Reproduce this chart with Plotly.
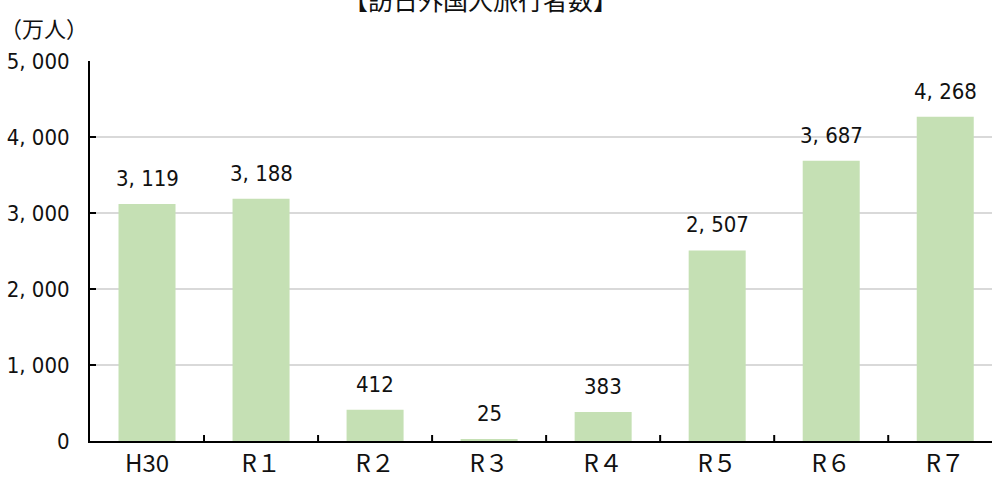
import plotly.graph_objects as go

categories = ["H30", "R１", "R２", "R３", "R４", "R５", "R６", "R７"]
visitors = [3119, 3188, 412, 25, 383, 2507, 3687, 4268]
y_tickvals = [0, 1000, 2000, 3000, 4000, 5000]
y_ticktext = ["0", "1, 000", "2, 000", "3, 000", "4, 000", "5, 000"]

NUMFONT = "DejaVu Sans Condensed, Noto Sans CJK JP, sans-serif"
CJK = "Noto Sans CJK JP, sans-serif"

W, H = 992, 481
L, T, B = 90, 61, 40
PW, PH = W - L, H - T - B


def fmt(v):
    return f"{v:,}".replace(",", ", ")


fig = go.Figure()
fig.add_trace(go.Bar(
    x=list(range(len(categories))),
    y=visitors,
    width=0.5,
    marker=dict(color="#C5E0B4", line=dict(width=0)),
    hoverinfo="skip",
))

ann = []
for i, v in enumerate(visitors):
    ann.append(dict(
        x=i, y=v, text=fmt(v), showarrow=False,
        xref="x", yref="y", yanchor="bottom", yshift=11,
        font=dict(family=NUMFONT, size=22, color="#111111"),
    ))
# title (partially clipped at top, as in the reference)
ann.append(dict(
    x=(480 - L) / PW, y=1 + (T + 1) / PH, xref="paper", yref="paper",
    text="【訪日外国人旅行者数】", showarrow=False, yanchor="middle",
    font=dict(family=CJK, size=25, color="#111111"),
))
# unit label
ann.append(dict(
    x=-(L + 2) / PW, y=1 + (T - 27) / PH, xref="paper", yref="paper",
    text="（万人）", showarrow=False, xanchor="left", yanchor="middle",
    font=dict(family=CJK, size=22, color="#111111"),
))

fig.update_layout(
    width=W, height=H,
    margin=dict(l=L, r=0, t=T, b=B, autoexpand=False),
    plot_bgcolor="white", paper_bgcolor="white",
    showlegend=False,
    annotations=ann,
)

fig.update_xaxes(
    range=[-0.5, 7.41],
    tickmode="array",
    tickvals=list(range(len(categories))),
    ticktext=categories,
    ticks="",
    showline=True, linecolor="#000000", linewidth=2,
    showgrid=False, zeroline=False,
    tickfont=dict(family=CJK, size=24, color="#111111"),
    automargin=False,
    fixedrange=True,
)
fig.update_yaxes(
    range=[0, 5000],
    tickmode="array",
    tickvals=y_tickvals,
    ticktext=y_ticktext,
    ticks="inside", ticklen=6, tickwidth=2, tickcolor="#000000",
    showline=True, linecolor="#000000", linewidth=2,
    showgrid=True, gridcolor="#D9D9D9", gridwidth=2,
    zeroline=False,
    ticklabelstandoff=14,
    tickfont=dict(family=NUMFONT, size=22, color="#111111"),
    automargin=False,
    fixedrange=True,
)

# category-boundary tick marks on x axis (inside, pointing up)
for k in range(1, len(categories)):
    fig.add_shape(
        type="line", xref="x", yref="y domain",
        x0=k - 0.5, x1=k - 0.5, y0=0, y1=6 / PH,
        line=dict(color="#000000", width=2),
    )

fig.write_html(
    "out.html",
    config={"displayModeBar": False},
    post_script="document.body.style.margin='0';document.body.style.overflow='hidden';",
)
